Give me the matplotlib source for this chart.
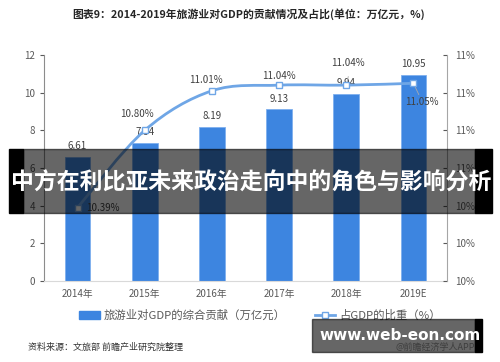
import numpy as np
import matplotlib.pyplot as plt
from matplotlib.path import Path
from matplotlib.patches import PathPatch, Rectangle
from matplotlib.lines import Line2D

plt.rcParams['font.family'] = ['Noto Sans CJK SC', 'DejaVu Sans']

# data
years = ['2014年', '2015年', '2016年', '2017年', '2018年', '2019E']
contrib = [6.61, 7.34, 8.19, 9.13, 9.94, 10.95]      # 万亿元
share = [10.39, 10.80, 11.01, 11.04, 11.04, 11.05]   # %
share_labels = ['10.39%', '10.80%', '11.01%', '11.04%', '11.04%', '11.05%']

bar_color = '#3d85e0'
line_color = '#6fa6e6'
txt = '#595959'

fig = plt.figure(figsize=(5, 3.62), dpi=100)
ax = fig.add_axes([0.088, 0.2238, 0.806, 0.6242])
ax2 = ax.twinx()

x = np.arange(len(years))
ax.bar(x, contrib, width=0.38, color=bar_color, edgecolor='#7fb0ee', linewidth=0.6, zorder=2)
for xi, v in zip(x, contrib):
    ax.annotate(f'{v:.2f}', (xi, v), xytext=(0, 4), textcoords='offset points',
                ha='center', va='bottom', fontsize=7, color='#404040')

ax.set_xlim(-0.5, 5.5)
ax.set_ylim(0, 12)
ax.set_yticks(range(0, 13, 2))
ax.set_xticks(x)
ax.set_xticklabels(years)
ax.tick_params(axis='x', length=0, labelsize=7, colors=txt, pad=6)
ax.tick_params(axis='y', length=3, labelsize=7, colors=txt, direction='out')
for s in ['top', 'right']:
    ax.spines[s].set_visible(False)
ax.spines['left'].set_color('#8c8c8c')
ax.spines['bottom'].set_color('#d9d9d9')

# smoothed line through the share points (Excel-style smoothing)
pts = np.column_stack([x, share])
ext = np.vstack([pts[0], pts, pts[-1]])
verts = [tuple(pts[0])]
codes = [Path.MOVETO]
for i in range(len(pts) - 1):
    p0, p1, p2, p3 = ext[i], ext[i + 1], ext[i + 2], ext[i + 3]
    c1 = p1 + (p2 - p0) / 6
    c2 = p2 - (p3 - p1) / 6
    verts += [tuple(c1), tuple(c2), tuple(p2)]
    codes += [Path.CURVE4] * 3
ax2.add_patch(PathPatch(Path(verts, codes), fill=False, edgecolor=line_color, lw=2, zorder=3))
ax2.plot(x, share, ls='none', marker='s', ms=4.5, mfc='white', mec=line_color, mew=1, zorder=4)

offsets = [(6, 0, 'left', 'center'), (-6, 8, 'center', 'bottom'), (-4, 4, 'center', 'bottom'),
           (0, 3, 'center', 'bottom'), (1, 12, 'center', 'bottom'), (6, -10, 'center', 'top')]
for xi, v, lab, (dx, dy, ha, va) in zip(x, share, share_labels, offsets):
    ax2.annotate(lab, (xi, v), xytext=(dx, dy), textcoords='offset points',
                 ha=ha, va=va, fontsize=7, color='#404040')
ax2.plot([4, 4.03], [11.04, 11.085], color='#aaaaaa', lw=0.6)
ax2.plot([5, 5.08], [11.05, 10.99], color='#aaaaaa', lw=0.6)

ax2.set_ylim(10.0, 11.2)
ax2.set_yticks(np.arange(10.0, 11.21, 0.2))
ax2.set_yticklabels([f'{t:.0f}%' for t in np.arange(10.0, 11.21, 0.2)])
ax2.tick_params(axis='y', length=3, labelsize=7, colors=txt, direction='in', pad=6)
for s in ['top', 'left', 'bottom']:
    ax2.spines[s].set_visible(False)
ax2.spines['right'].set_color('#a6a6a6')

fig.text(0.497, 0.962, '图表9：2014-2019年旅游业对GDP的贡献情况及占比(单位：万亿元，%)',
         ha='center', va='center', fontsize=7.8, fontweight='bold', color='#262626')

handles = [Rectangle((0, 0), 1, 1, color=bar_color),
           Line2D([0], [0], color=line_color, lw=2, marker='s', ms=4.5, mfc='white', mec=line_color)]
fig.legend(handles, ['旅游业对GDP的综合贡献（万亿元）', '占GDP的比重（%）'], loc='center',
           bbox_to_anchor=(0.52, 0.128), ncol=2, frameon=False, fontsize=8.2,
           labelcolor=txt, columnspacing=2.6, handlelength=1.8, handletextpad=0.3)

fig.text(0.056, 0.04, '资料来源：文旅部 前瞻产业研究院整理', ha='left', va='center',
         fontsize=6.5, color='#333333')
fig.text(0.95, 0.04, '@前瞻经济学人APP', ha='right', va='center', fontsize=6.5, color='#999999')

# overlay banner across the middle
fig.patches.append(Rectangle((0.046, 0.4116), 0.904, 0.1768, transform=fig.transFigure,
                             color='black', alpha=0.6, zorder=10))
fig.patches.append(Rectangle((0.018, 0.4116), 0.028, 0.1768, transform=fig.transFigure,
                             color='black', zorder=10))
fig.patches.append(Rectangle((0.95, 0.4116), 0.034, 0.1768, transform=fig.transFigure,
                             color='black', zorder=10))
fig.text(0.502, 0.494, '中方在利比亚未来政治走向中的角色与影响分析', ha='center', va='center',
         fontsize=16.5, fontweight='bold', color='white', zorder=11)

# watermark box bottom right
fig.patches.append(Rectangle((0.624, 0.028), 0.326, 0.091, transform=fig.transFigure,
                             color='black', alpha=0.6, zorder=10))
fig.patches.append(Rectangle((0.95, 0.028), 0.014, 0.091, transform=fig.transFigure,
                             color='black', zorder=10))
fig.text(0.8, 0.074, 'www.web-eon.com', ha='center', va='center', fontsize=11,
         fontweight='bold', color='white', family='DejaVu Sans', zorder=11)

fig.savefig('out.png', dpi=100)
